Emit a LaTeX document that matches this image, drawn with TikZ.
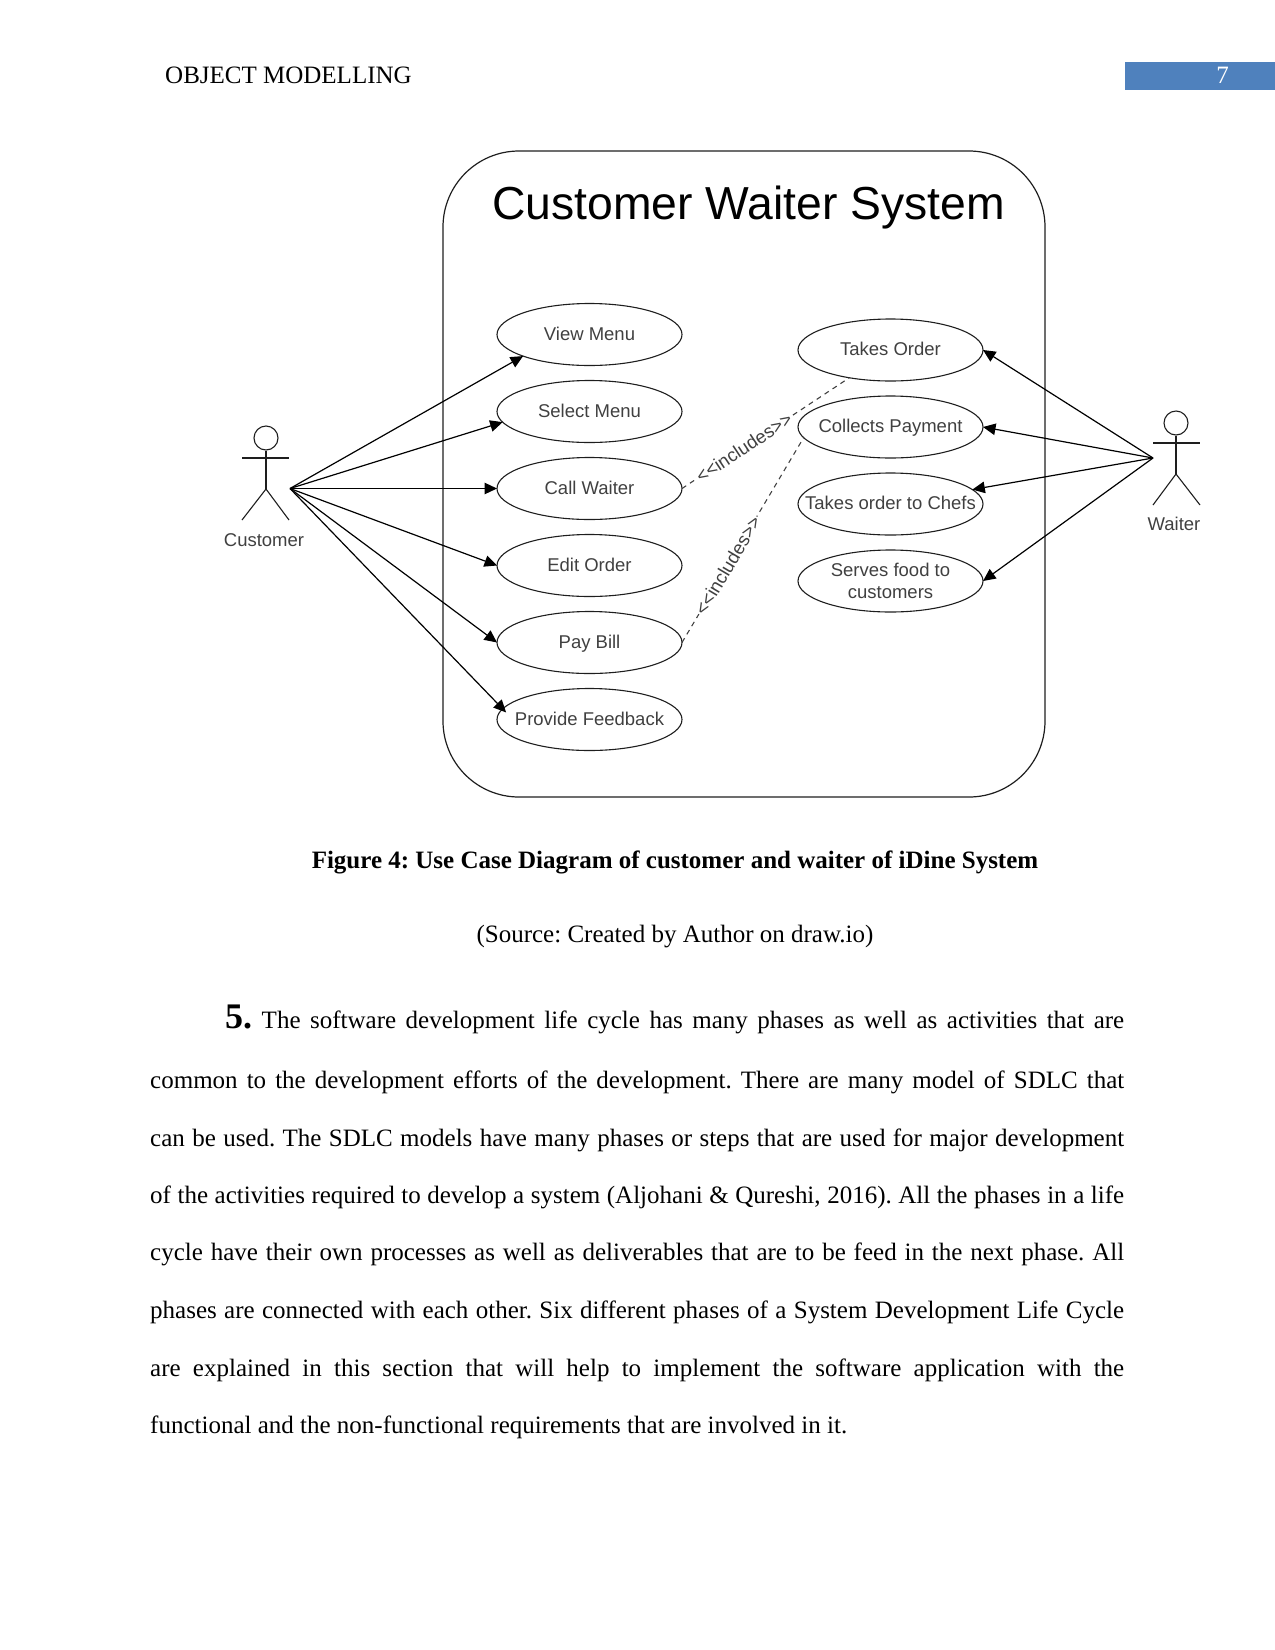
\documentclass[tikz,border=0pt]{standalone}
\usepackage{fontspec}
\setmainfont{Liberation Serif}
\newfontfamily\diagramfont{Liberation Sans}
\usepackage{tikz}
\usetikzlibrary{positioning}
\usetikzlibrary{shapes.geometric}
\usetikzlibrary{arrows.meta}
\frenchspacing

\definecolor{headerblue}{HTML}{4F81BD}
\definecolor{inkgray}{HTML}{1E1E1E}
\definecolor{labelgray}{HTML}{404040}

% keeps a name from growing its ellipse
\newcommand{\ucname}[1]{\makebox[0pt]{\smash{\raisebox{-0.30em}{#1}}}}
% one full line of the paragraph
\newcommand{\fullline}[2]{\makebox[#1][s]{#2}}

\tikzset{
  usecase/.style={draw=inkgray, ellipse, line width=1.1pt, inner sep=0pt, outer sep=0pt,
    minimum width=185pt, minimum height=62pt, text=labelgray,
    font=\diagramfont\fontsize{18.5}{22}\selectfont},
  actorname/.style={text=labelgray, font=\diagramfont\fontsize{18.5}{22}\selectfont},
  stick/.style={draw=inkgray, line width=1.1pt},
  assoc/.style={draw=black, line width=1.2pt, -{Triangle[length=12.5pt,width=11.5pt]}},
  incl/.style={draw=labelgray, line width=1.1pt, dash pattern=on 5pt off 4.5pt},
  incltext/.style={fill=white, inner sep=1pt, text=labelgray, font=\diagramfont\fontsize{18.5}{22}\selectfont},
  pagetext/.style={anchor=base west, inner sep=0pt, font=\fontsize{25}{30}\selectfont},
  captext/.style={anchor=base, inner sep=0pt, font=\fontsize{25}{30}\selectfont},
}

\begin{document}
\begin{tikzpicture}[x=1pt, y=-1pt]
  \useasboundingbox (0,0) rectangle (1275,1650);

  % Page header
  \node[pagetext] (header) at (165,83) {OBJECT MODELLING};
  \node[fill=headerblue, inner sep=0pt, minimum width=151pt, minimum height=28pt] (pagebar) at (1200,75.5) {};
  \node[text=white, inner sep=0pt, font=\fontsize{25}{30}\selectfont] (pagenum) at (1222.5,75) {7};

  % System boundary
  \node[draw=inkgray, line width=1.2pt, rounded corners=76pt, inner sep=0pt,
    minimum width=602pt, minimum height=646pt] (system) at (744,474) {};
  \node[inner sep=0pt, anchor=base, text=black, font=\diagramfont\fontsize{46.3}{50}\selectfont]
    (title) at (748.5,219) {Customer Waiter System};

  % Customer use cases
  \node[usecase]                      (view)     at (589.5,334.5) {\ucname{View Menu}};
  \node[usecase, below=15pt of view]   (select)   {\ucname{Select Menu}};
  \node[usecase, below=15pt of select] (call)     {\ucname{Call Waiter}};
  \node[usecase, below=15pt of call]   (edit)     {\ucname{Edit Order}};
  \node[usecase, below=15pt of edit]   (pay)      {\ucname{Pay Bill}};
  \node[usecase, below=15pt of pay]    (feedback) {\ucname{Provide Feedback}};

  % Waiter use cases
  \node[usecase]                        (takes)   at (890.5,350) {\ucname{Takes Order}};
  \node[usecase, below=15pt of takes]    (collect) {\ucname{Collects Payment}};
  \node[usecase, below=15pt of collect]  (chefs)   {\ucname{Takes order to Chefs}};
  \node[usecase, below=15pt of chefs]    (serves)  {\ucname{\raisebox{-1pt}{\begin{tabular}{@{}c@{}}Serves food to\\customers\end{tabular}}}};

  % Customer actor
  \node[circle, stick, inner sep=0pt, minimum size=24pt] (custhead) at (266,438) {};
  \node[actorname] (custname) at (264,540) {Customer};
  \coordinate (custhip) at (266,489);
  \coordinate (custport) at (290,488.5);
  \draw[stick] (custhead) -- (custhip);
  \draw[stick] (242,458) -- (289,458);
  \draw[stick] (242,520) -- (custhip) -- (289,520);

  % Waiter actor
  \node[circle, stick, inner sep=0pt, minimum size=24pt] (waithead) at (1176,423) {};
  \node[actorname] (waitname) at (1174,524) {Waiter};
  \coordinate (waithip) at (1176,474);
  \coordinate (waitport) at (1153,458);
  \draw[stick] (waithead) -- (waithip);
  \draw[stick] (1153,443) -- (1200,443);
  \draw[stick] (1153,505) -- (waithip) -- (1200,505);

  % Connect the nodes
  \draw[assoc] (custport) -- (view.198.6);
  \draw[assoc] (custport) -- (select.187.5);
  \draw[assoc] (custport) -- (call.west);
  \draw[assoc] (custport) -- (edit.west);
  \draw[assoc] (custport) -- (pay.west);
  \draw[assoc, shorten >=-5pt] (custport) -- (feedback.173);
  \draw[assoc] (waitport) -- (takes.east);
  \draw[assoc] (waitport) -- (collect.east);
  \draw[assoc] (waitport) -- (chefs.10);
  \draw[assoc] (waitport) -- (serves.east);

  % Includes
  \draw[incl] (call.east) -- node[incltext, pos=.37, sloped] (inclone) {<<includes>>} (takes.214.6);
  \draw[incl] (pay.east) -- node[incltext, pos=.36, sloped, xshift=4pt] (incltwo) {<<includes>>} (collect.187.3);

  % Caption
  \node[captext] (caption) at (675,868) {\textbf{Figure 4: Use Case Diagram of customer and waiter of iDine System}};
  \node[captext] (source) at (675,942) {(Source: Created by Author on draw.io)};

  % Paragraph
  \node[pagetext] (lineone) at (225,1028) {\fullline{899pt}{{\fontsize{36}{40}\selectfont\textbf{5.}} The software development life cycle has many phases as well as activities that are}};
  \node[pagetext] (linetwo) at (150,1088) {\fullline{974pt}{common to the development efforts of the development. There are many model of SDLC that}};
  \node[pagetext] (linethree) at (150,1146) {\fullline{974pt}{can be used. The SDLC models have many phases or steps that are used for major development}};
  \node[pagetext] (linefour) at (150,1203) {\fullline{974pt}{of the activities required to develop a system (Aljohani \& Qureshi, 2016). All the phases in a life}};
  \node[pagetext] (linefive) at (150,1260) {\fullline{974pt}{cycle have their own processes as well as deliverables that are to be feed in the next phase. All}};
  \node[pagetext] (linesix) at (150,1318) {\fullline{974pt}{phases are connected with each other. Six different phases of a System Development Life Cycle}};
  \node[pagetext] (lineseven) at (150,1376) {\fullline{974pt}{are explained in this section that will help to implement the software application with the}};
  \node[pagetext] (lineeight) at (150,1433) {functional and the non-functional requirements that are involved in it.};

\end{tikzpicture}
\end{document}
